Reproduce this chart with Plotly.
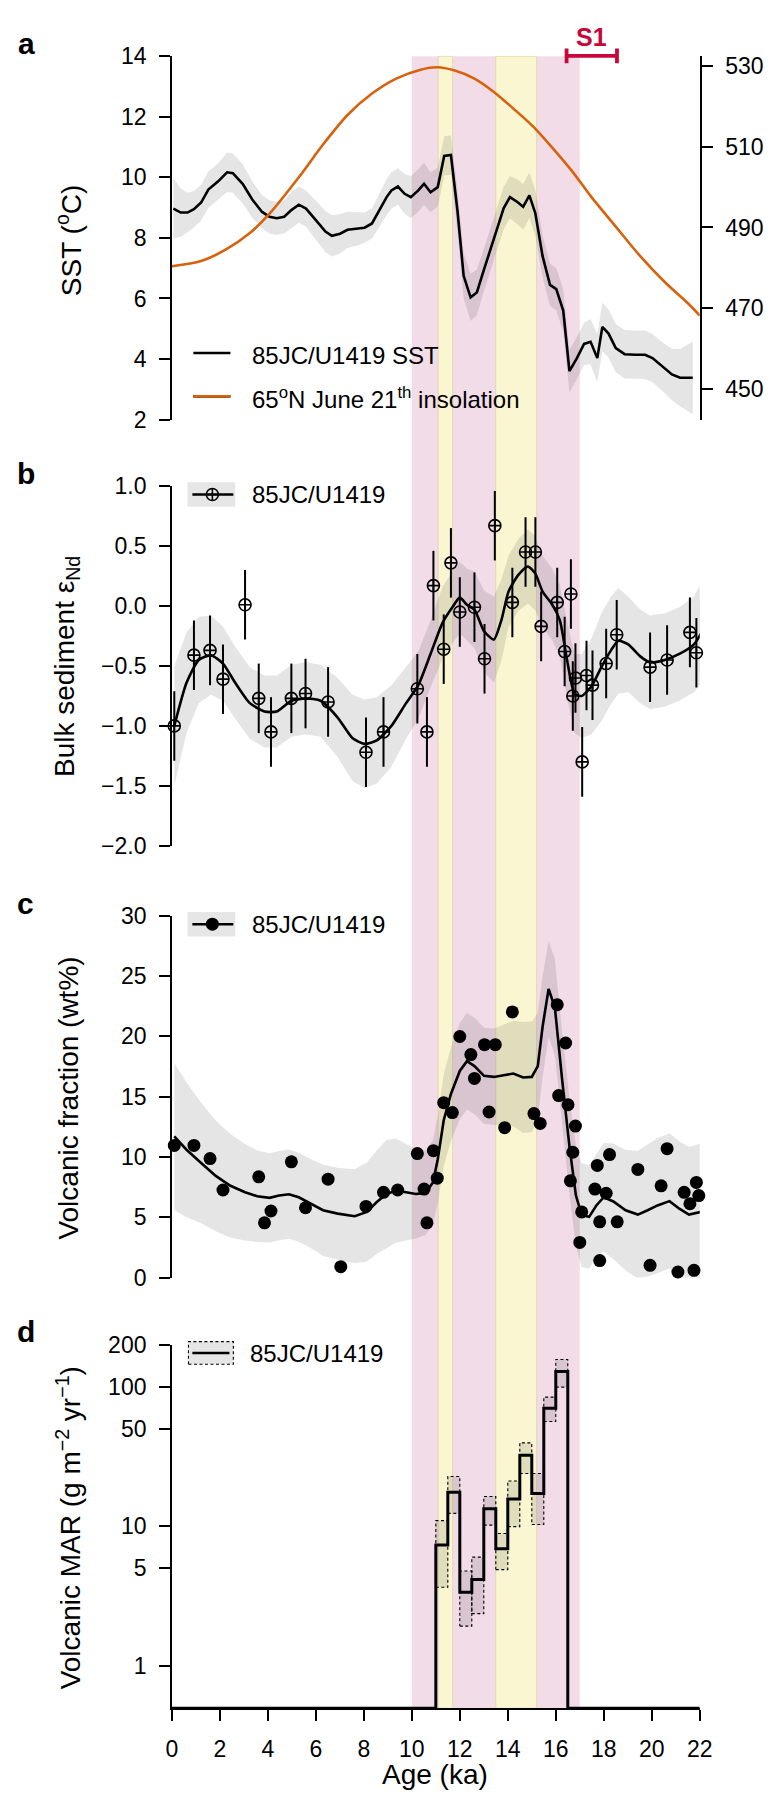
import math
import plotly.graph_objects as go

W, H = 783, 1807
FONT = "Liberation Sans, Arial, Helvetica, sans-serif"

# ---------------- data ----------------
# (a) alkenone SST, 85JC/U1419 (deg C) with 1-sigma envelope
sst_age = [0.06, 0.37, 0.65, 0.92, 1.22, 1.52, 1.93, 2.30, 2.54, 2.95,
           3.35, 3.76, 4.07, 4.37, 4.68, 4.98, 5.29, 5.59, 6.00, 6.40,
           6.67, 7.01, 7.32, 7.73, 8.03, 8.34, 8.64, 8.95, 9.15, 9.42,
           9.70, 9.96, 10.27, 10.51, 10.78, 11.08, 11.35, 11.63, 11.90, 12.16,
           12.45, 12.71, 13.01, 13.32, 13.62, 13.83, 14.09, 14.40, 14.64, 14.90,
           15.15, 15.45, 15.76, 16.02, 16.31, 16.57, 16.88, 17.18, 17.45, 17.73,
           17.94, 18.20, 18.50, 18.87, 19.32, 19.72, 20.03, 20.43, 20.84, 21.18,
           21.71]
sst = [8.97, 8.84, 8.84, 8.95, 9.17, 9.60, 9.87, 10.17, 10.14, 9.79,
       9.27, 8.86, 8.70, 8.65, 8.70, 8.92, 9.10, 8.97, 8.59, 8.21,
       8.07, 8.14, 8.27, 8.30, 8.34, 8.48, 8.92, 9.35, 9.57, 9.70,
       9.46, 9.35, 9.57, 9.79, 9.51, 9.68, 10.71, 10.74, 8.92, 6.75,
       6.04, 6.20, 6.96, 7.72, 8.48, 8.99, 9.35, 9.19, 9.03, 9.41,
       8.81, 7.40, 6.45, 6.31, 5.60, 3.60, 4.03, 4.50, 4.57, 4.03,
       5.06, 4.84, 4.36, 4.16, 4.14, 4.14, 4.03, 3.76, 3.49, 3.38,
       3.38]
sst_err = [1.00, 0.80, 0.65, 0.60, 0.60, 0.60, 0.60, 0.65, 0.65, 0.65,
           0.60, 0.55, 0.55, 0.55, 0.55, 0.60, 0.60, 0.60, 0.65, 0.68,
           0.68, 0.65, 0.60, 0.55, 0.50, 0.50, 0.55, 0.60, 0.60, 0.60,
           0.65, 0.70, 0.70, 0.70, 0.65, 0.65, 0.65, 0.65, 0.70, 0.75,
           0.78, 0.75, 0.70, 0.70, 0.70, 0.70, 0.70, 0.75, 0.75, 0.75,
           0.75, 0.70, 0.70, 0.70, 0.70, 0.70, 0.70, 0.70, 0.75, 0.80,
           0.80, 0.80, 0.80, 0.80, 0.80, 0.80, 0.80, 0.80, 0.85, 0.95,
           1.20]

# (a) 65N June 21 insolation (W m-2)
ins_age = [0.00, 1.22, 2.24, 3.25, 4.07, 5.29, 6.30, 7.32, 8.34, 9.35,
           10.37, 11.04, 11.79, 12.61, 13.42, 14.23, 15.05, 15.86, 16.67, 17.49,
           18.50, 19.52, 20.54, 21.55, 22.00]
ins = [480.4, 481.7, 484.5, 488.6, 493.4, 502.4, 510.5, 517.8, 523.1, 526.8,
       529.0, 529.6, 528.8, 526.8, 523.5, 519.4, 515.0, 509.7, 504.0, 497.5,
       490.2, 482.9, 476.5, 471.0, 468.2]

# (b) bulk sediment eps-Nd
nd_age = [0.10, 0.92, 1.59, 2.13, 3.05, 3.62, 4.13, 4.98, 5.57, 6.51,
          8.09, 8.82, 10.23, 10.63, 10.90, 11.33, 11.63, 12.00, 12.61, 13.03,
          13.46, 14.19, 14.74, 15.15, 15.39, 16.06, 16.37, 16.63, 16.71, 16.82,
          17.10, 17.28, 17.53, 18.10, 18.54, 19.93, 20.64, 21.59, 21.86, 22.05]
nd = [-1.00, -0.41, -0.37, -0.61, 0.01, -0.77, -1.05, -0.77, -0.73, -0.80,
      -1.22, -1.05, -0.69, -1.05, 0.17, -0.36, 0.36, -0.05, -0.01, -0.44,
      0.67, 0.03, 0.45, 0.45, -0.17, 0.03, -0.38, 0.10, -0.75, -0.60,
      -1.30, -0.58, -0.66, -0.48, -0.24, -0.51, -0.45, -0.22, -0.39, -0.25]
nd_err = 0.29

nd_fit_age = [0.10, 0.61, 1.12, 1.63, 2.13, 2.64, 3.25, 3.86, 4.37, 4.98,
              5.59, 6.20, 6.91, 7.52, 8.03, 8.54, 9.15, 9.76, 10.27, 10.78,
              11.28, 11.69, 12.00, 12.30, 12.61, 13.01, 13.42, 13.73, 14.03, 14.44,
              14.84, 15.15, 15.45, 15.86, 16.17, 16.47, 16.78, 17.08, 17.49, 17.90,
              18.30, 18.61, 19.02, 19.52, 19.93, 20.54, 21.15, 21.76, 22.05]
nd_fit = [-1.00, -0.64, -0.45, -0.41, -0.48, -0.64, -0.81, -0.88, -0.88, -0.79,
          -0.77, -0.79, -0.93, -1.10, -1.15, -1.12, -1.00, -0.81, -0.66, -0.40,
          -0.14, -0.01, 0.07, 0.01, -0.03, -0.21, -0.28, -0.12, 0.12, 0.26,
          0.33, 0.27, 0.12, 0.01, -0.12, -0.45, -0.73, -0.75, -0.67, -0.51,
          -0.37, -0.29, -0.32, -0.42, -0.47, -0.45, -0.40, -0.32, -0.23]
nd_fit_err = [0.50, 0.42, 0.36, 0.33, 0.31, 0.30, 0.30, 0.30, 0.30, 0.30,
              0.30, 0.30, 0.33, 0.36, 0.37, 0.36, 0.34, 0.30, 0.28, 0.28,
              0.30, 0.30, 0.30, 0.30, 0.32, 0.34, 0.36, 0.34, 0.30, 0.30,
              0.31, 0.31, 0.30, 0.30, 0.30, 0.32, 0.33, 0.35, 0.40, 0.45,
              0.45, 0.44, 0.40, 0.39, 0.39, 0.39, 0.39, 0.40, 0.42]

# (c) volcanic fraction (wt%)
vf_age = [0.10, 0.92, 1.59, 2.13, 3.62, 3.86, 4.13, 4.98, 5.57, 6.51,
          7.04, 8.09, 8.82, 9.41, 10.23, 10.51, 10.63, 10.90, 11.06, 11.33,
          11.69, 12.00, 12.46, 12.61, 13.03, 13.22, 13.48, 13.87, 14.19, 15.09,
          15.35, 15.76, 16.06, 16.12, 16.41, 16.51, 16.61, 16.71, 16.82, 17.00,
          17.08, 17.63, 17.73, 17.83, 17.83, 18.10, 18.24, 18.56, 19.42, 19.93,
          20.39, 20.64, 21.09, 21.35, 21.59, 21.76, 21.86, 21.96, 22.16]
vf = [10.96, 10.96, 9.87, 7.26, 8.35, 4.54, 5.52, 9.60, 5.79, 8.16,
      0.90, 5.90, 7.07, 7.26, 10.28, 7.34, 4.54, 10.52, 8.24, 14.50,
      13.68, 19.99, 18.49, 16.51, 19.31, 13.73, 19.31, 12.43, 22.03, 13.60,
      12.78, 31.96, 22.63, 15.09, 19.45, 14.33, 8.02, 10.39, 12.56, 2.91,
      5.44, 7.34, 9.30, 4.62, 1.41, 6.99, 10.20, 4.62, 8.97, 1.01,
      7.61, 10.69, 0.46, 7.07, 6.12, 0.60, 7.89, 6.80, 5.36]

vf_fit_age = [0.10, 0.61, 1.22, 1.83, 2.44, 3.05, 3.56, 4.07, 4.47, 4.88,
              5.29, 5.80, 6.30, 6.91, 7.62, 8.13, 8.54, 8.95, 9.35, 9.76,
              10.17, 10.57, 10.88, 11.08, 11.33, 11.63, 12.00, 12.30, 12.61, 13.01,
              13.42, 13.83, 14.23, 14.64, 15.00, 15.25, 15.45, 15.70, 15.96, 16.27,
              16.57, 16.84, 17.08, 17.39, 17.69, 18.00, 18.40, 18.91, 19.42, 19.83,
              20.24, 20.74, 21.15, 21.55, 22.16]
vf_fit = [11.70, 10.60, 9.50, 8.43, 7.61, 7.07, 6.74, 6.61, 6.80, 6.91,
          6.66, 6.12, 5.58, 5.30, 5.09, 5.44, 6.26, 6.93, 7.21, 7.07,
          6.93, 7.02, 7.89, 9.79, 13.05, 15.23, 17.13, 17.95, 17.54, 16.73,
          16.64, 16.78, 16.92, 16.59, 16.64, 17.54, 20.80, 23.93, 22.44, 16.32,
          10.88, 6.80, 5.17, 5.03, 5.98, 6.66, 6.31, 5.58, 5.22, 5.58,
          5.98, 6.34, 5.71, 5.22, 5.49]
vf_fit_err = [6.1, 5.6, 5.0, 4.6, 4.3, 4.0, 3.8, 3.7, 3.7, 3.7,
              3.7, 3.7, 3.8, 3.8, 3.9, 4.1, 4.3, 4.5, 4.3, 4.0,
              3.7, 3.5, 3.5, 3.6, 3.8, 3.9, 4.0, 4.0, 4.0, 4.0,
              4.0, 4.2, 4.4, 4.6, 4.6, 4.4, 4.2, 4.0, 4.0, 4.0,
              4.0, 4.2, 4.3, 4.3, 4.3, 4.5, 4.8, 5.0, 5.3, 5.5,
              5.6, 5.6, 5.6, 5.6, 5.7]

# (d) volcanic mass accumulation rate (g m-2 yr-1), binned
mar_edges = [0.0, 11.0, 11.5, 12.0, 12.5, 13.0, 13.5, 14.0, 14.5, 15.0, 15.5, 16.0, 16.5, 22.0]
mar = [0, 7.35, 17.6, 3.36, 4.15, 13.4, 6.89, 15.7, 32.4, 17.2, 70.5, 129.5, 0]
mar_lo = [3.65, 12.4, 1.92, 2.36, 10.2, 4.89, 9.96, 24.0, 10.3, 56.7, 100.0]
mar_hi = [11.0, 22.8, 4.78, 6.01, 16.4, 8.89, 21.2, 39.8, 24.0, 84.8, 158.0]

# climate intervals (ka)
pink_bands = [(10.0, 17.0)]
yellow_bands = [(11.1, 11.7), (13.5, 15.2)]
s1_age, s1_err = 17.5, 1.05

# ---------------- layout helpers ----------------
def fx(p):
    return p / W


def fy(p):
    return 1 - p / H


X_DOMAIN = [fx(170), fx(711)]
DOM_A = [fy(412.5), fy(44)]
DOM_B = [fy(845), fy(480)]
DOM_C = [fy(1283), fy(916)]
DOM_D = [fy(1720), fy(1351.7)]
D_RANGE = [math.log10(0.4935), math.log10(200)]

GRAY = "rgba(0,0,0,0.10)"
LEG_GRAY = "#E6E6E6"
ORANGE = "#D8610C"
CRIMSON = "#C8063A"
PINK = "#F2DCE8"
YELLOW = "#FAF6D2"

fig = go.Figure()


def envelope(x, y, err, xa, ya):
    upper = [v + e for v, e in zip(y, err)]
    lower = [v - e for v, e in zip(y, err)]
    return go.Scatter(x=list(x) + list(x)[::-1], y=upper + lower[::-1],
                      fill="toself", fillcolor=GRAY, mode="lines",
                      line=dict(width=0), xaxis=xa, yaxis=ya,
                      hoverinfo="skip", showlegend=False)


# panel a
fig.add_trace(envelope(sst_age, sst, sst_err, "x", "y"))
fig.add_trace(go.Scatter(x=sst_age, y=sst, mode="lines",
                         line=dict(color="black", width=2.6),
                         xaxis="x", yaxis="y"))
fig.add_trace(go.Scatter(x=ins_age, y=ins, mode="lines",
                         line=dict(color=ORANGE, width=2.6, shape="spline", smoothing=0.8),
                         xaxis="x", yaxis="y2"))

# panel b
fig.add_trace(envelope(nd_fit_age, nd_fit, nd_fit_err, "x2", "y3"))
fig.add_trace(go.Scatter(x=nd_fit_age, y=nd_fit, mode="lines",
                         line=dict(color="black", width=2.6, shape="spline", smoothing=0.6),
                         xaxis="x2", yaxis="y3"))
fig.add_trace(go.Scatter(x=nd_age, y=nd, mode="markers",
                         marker=dict(symbol="circle-cross-open", size=12, color="black",
                                     line=dict(width=1.6, color="black")),
                         error_y=dict(type="constant", value=nd_err, thickness=2,
                                      width=0, color="black"),
                         cliponaxis=False, xaxis="x2", yaxis="y3"))

# panel c
fig.add_trace(envelope(vf_fit_age, vf_fit, vf_fit_err, "x3", "y4"))
fig.add_trace(go.Scatter(x=vf_fit_age, y=vf_fit, mode="lines",
                         line=dict(color="black", width=2.6),
                         xaxis="x3", yaxis="y4"))
fig.add_trace(go.Scatter(x=vf_age, y=vf, mode="markers",
                         marker=dict(symbol="circle", size=13, color="black"),
                         cliponaxis=False, xaxis="x3", yaxis="y4"))

# panel d: uncertainty boxes per bin, then the stepped MAR line
floor = 10 ** D_RANGE[0]
bx, by = [], []
k = 0
for i, v in enumerate(mar):
    if v <= 0:
        continue
    x0, x1 = mar_edges[i], mar_edges[i + 1]
    lo, hi = mar_lo[k], mar_hi[k]
    bx += [x0, x1, x1, x0, x0, None]
    by += [lo, lo, hi, hi, lo, None]
    k += 1
fig.add_trace(go.Scatter(x=bx, y=by, mode="lines", fill="toself", fillcolor=GRAY,
                         line=dict(color="black", width=1.1, dash="3px,2.5px"),
                         xaxis="x4", yaxis="y5"))
step_y = [v if v > 0 else floor for v in mar]
fig.add_trace(go.Scatter(x=mar_edges, y=step_y + [step_y[-1]], mode="lines",
                         line=dict(color="black", width=3, shape="hv"),
                         xaxis="x4", yaxis="y5"))

# legend keys (pixel overlay)
fig.add_trace(go.Scatter(x=[192, 230, None, 192, 230], y=[345, 345, None, 389, 389],
                         mode="lines", line=dict(color="black", width=2.6),
                         xaxis="x5", yaxis="y6"))
fig.add_trace(go.Scatter(x=[192, 230], y=[389, 389], mode="lines",
                         line=dict(color=ORANGE, width=2.6), xaxis="x5", yaxis="y6"))
fig.add_trace(go.Scatter(x=[191, 233, None, 191, 233, None, 191, 229],
                         y=[488.5, 488.5, None, 924.5, 924.5, None, 1359.5, 1359.5],
                         mode="lines", line=dict(color="black", width=2.6),
                         xaxis="x5", yaxis="y6"))
fig.add_trace(go.Scatter(x=[211.5], y=[488.5], mode="markers",
                         marker=dict(symbol="circle-cross-open", size=12, color="black",
                                     line=dict(width=1.6, color="black")),
                         xaxis="x5", yaxis="y6"))
fig.add_trace(go.Scatter(x=[211.5], y=[924.5], mode="markers",
                         marker=dict(symbol="circle", size=13, color="black"),
                         xaxis="x5", yaxis="y6"))

# ---------------- shapes ----------------
shapes = []
for a0, a1 in pink_bands:
    shapes.append(dict(type="rect", xref="x4", yref="paper", x0=a0, x1=a1,
                       y0=fy(1720), y1=fy(44), fillcolor=PINK,
                       line=dict(width=0), layer="below"))
for a0, a1 in yellow_bands:
    shapes.append(dict(type="rect", xref="x4", yref="paper", x0=a0, x1=a1,
                       y0=fy(1720), y1=fy(44), fillcolor=YELLOW,
                       line=dict(width=0.8, color="rgba(215,205,140,0.7)"), layer="below"))
# legend boxes
shapes.append(dict(type="rect", xref="paper", yref="paper", x0=fx(186), x1=fx(235),
                   y0=fy(501), y1=fy(476), fillcolor=LEG_GRAY, line=dict(width=0), layer="below"))
shapes.append(dict(type="rect", xref="paper", yref="paper", x0=fx(186), x1=fx(235),
                   y0=fy(937), y1=fy(912), fillcolor=LEG_GRAY, line=dict(width=0), layer="below"))
shapes.append(dict(type="rect", xref="paper", yref="paper", x0=fx(187), x1=fx(233),
                   y0=fy(1371), y1=fy(1348), fillcolor=LEG_GRAY,
                   line=dict(width=1.1, color="black", dash="3px,2.5px"), layer="below"))
# S1 age range
s1_y, s1_cap = 43.5, 7.5
shapes.append(dict(type="line", xref="x", yref="paper", x0=s1_age - s1_err, x1=s1_age + s1_err,
                   y0=fy(s1_y), y1=fy(s1_y), line=dict(color=CRIMSON, width=3.8)))
for xe in (s1_age - s1_err, s1_age + s1_err):
    shapes.append(dict(type="line", xref="x", yref="paper", x0=xe, x1=xe,
                       y0=fy(s1_y - s1_cap), y1=fy(s1_y + s1_cap),
                       line=dict(color=CRIMSON, width=3.8)))

# ---------------- annotations ----------------
ann = []


def text(x, y, s, size, xanchor="center", angle=0, bold=False, color="black", xref="paper"):
    ann.append(dict(x=x if xref != "paper" else fx(x), y=fy(y), xref=xref, yref="paper",
                    text=f"<b>{s}</b>" if bold else s, showarrow=False,
                    xanchor=xanchor, yanchor="middle", textangle=angle,
                    font=dict(family=FONT, size=size, color=color)))


for letter, (lx, ly) in zip("abcd", [(21, 31), (20, 467), (20, 903), (20, 1338)]):
    text(lx, ly, letter, 30, bold=True)

text(64, 230, "SST (<sup>o</sup>C)", 28, angle=-90)
text(62, 663, "Bulk sediment ε<sub>Nd</sub>", 28, angle=-90)
text(64, 1101, "Volcanic fraction (wt%)", 28, angle=-90)
text(64, 1537, "Volcanic MAR (g m<sup>−2</sup> yr<sup>−1</sup>)", 28, angle=-90)
text(440, 1787, "Age (ka)", 28)

text(250, 347, "85JC/U1419 SST", 24, xanchor="left")
text(250, 391, "65<sup>o</sup>N June 21<sup>th</sup> insolation", 24, xanchor="left")
text(250, 489, "85JC/U1419", 24, xanchor="left")
text(250, 925, "85JC/U1419", 24, xanchor="left")
text(248, 1360, "85JC/U1419", 24, xanchor="left")

ann.append(dict(x=s1_age, y=fy(24), xref="x", yref="paper", text="<b>S1</b>",
                showarrow=False, xanchor="center", yanchor="middle",
                font=dict(family=FONT, size=25, color=CRIMSON)))

# ---------------- axes ----------------
axis_style = dict(showline=True, linecolor="black", linewidth=1.6, ticks="outside",
                  ticklen=11, tickwidth=1.6, tickcolor="black",
                  tickfont=dict(family=FONT, size=23, color="black"),
                  showgrid=False, zeroline=False, ticklabelstandoff=8, fixedrange=True)
hidden_x = dict(domain=X_DOMAIN, range=[0, 22], visible=False, fixedrange=True)

fig.update_layout(
    width=W, height=H,
    margin=dict(l=0, r=0, t=0, b=0),
    paper_bgcolor="white", plot_bgcolor="rgba(0,0,0,0)",
    showlegend=False,
    xaxis=dict(hidden_x, anchor="y"),
    yaxis=dict(axis_style, domain=DOM_A, range=[2, 14],
               tickvals=[2, 4, 6, 8, 10, 12, 14], anchor="x"),
    yaxis2=dict(axis_style, overlaying="y", side="right", anchor="x",
                range=[442.5, 532.3], tickvals=[450, 470, 490, 510, 530]),
    xaxis2=dict(hidden_x, anchor="y3"),
    yaxis3=dict(axis_style, domain=DOM_B, range=[-2, 1], anchor="x2",
                tickvals=[-2, -1.5, -1, -0.5, 0, 0.5, 1], tickformat=".1f"),
    xaxis3=dict(hidden_x, anchor="y4"),
    yaxis4=dict(axis_style, domain=DOM_C, range=[0, 30], anchor="x3",
                tickvals=[0, 5, 10, 15, 20, 25, 30]),
    xaxis4=dict(axis_style, domain=X_DOMAIN, range=[0, 22], anchor="y5",
                tickvals=list(range(0, 23, 2))),
    yaxis5=dict(axis_style, domain=DOM_D, type="log", range=D_RANGE, anchor="x4",
                tickvals=[1, 5, 10, 50, 100, 200],
                ticktext=["1", "5", "10", "50", "100", "200"]),
    xaxis5=dict(domain=[0, 1], range=[0, W], visible=False, anchor="y6", fixedrange=True),
    yaxis6=dict(domain=[0, 1], range=[H, 0], visible=False, anchor="x5", fixedrange=True),
    shapes=shapes,
    annotations=ann,
)

fig.write_html("out.html")
